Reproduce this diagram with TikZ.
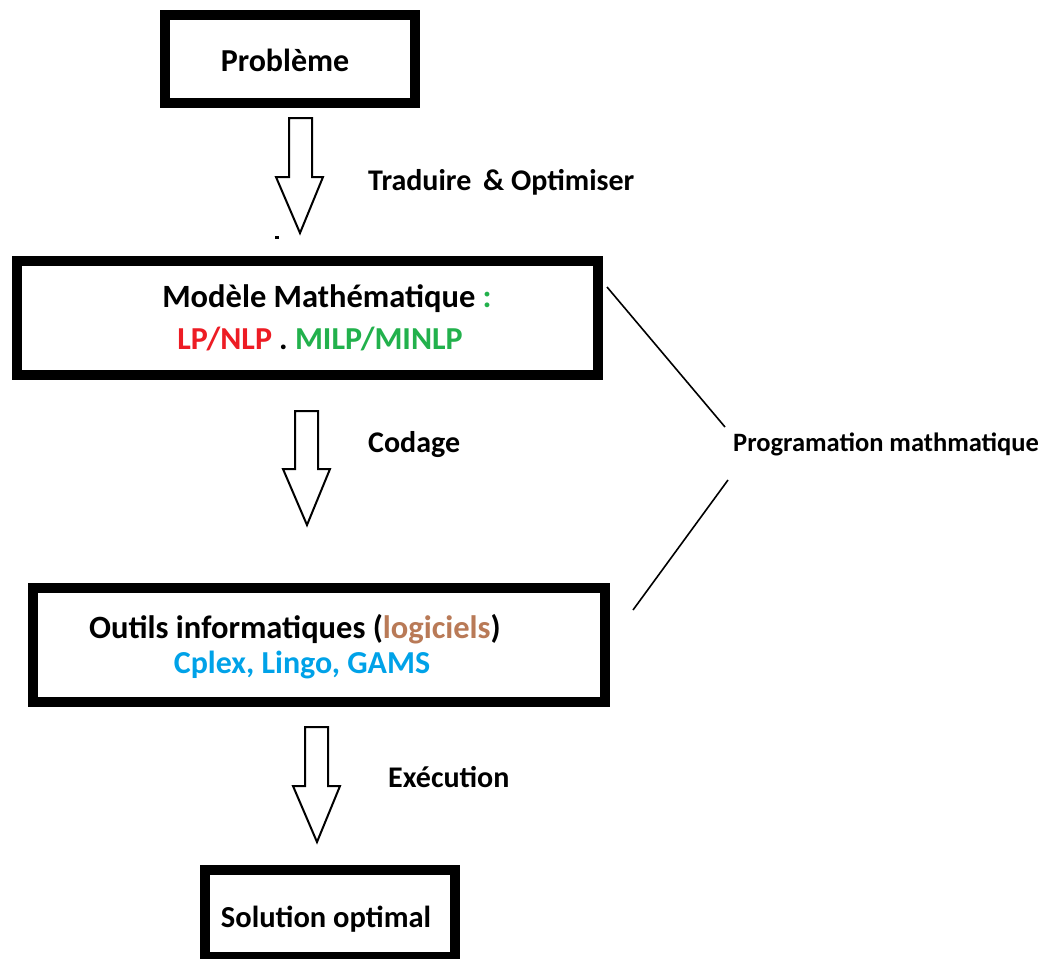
\documentclass[tikz,border=0pt]{standalone}
\usepackage{fontspec}
\setmainfont{Carlito}
\definecolor{lpred}{RGB}{237,28,36}
\definecolor{milpgreen}{RGB}{34,177,76}
\definecolor{toolblue}{RGB}{0,162,232}
\definecolor{softbrown}{RGB}{185,122,87}
\begin{document}
\begin{tikzpicture}[x=1pt,y=-1pt,
  frame/.style={draw=black,line width=10pt,inner sep=0pt,fill=white},
  blockarrow/.style={draw=black,line width=2pt,fill=white,line join=miter},
  boxtext/.style={font=\bfseries\fontsize{32}{38}\selectfont,inner sep=0pt,anchor=base},
  labeltext/.style={font=\bfseries\fontsize{30}{36}\selectfont,inner sep=0pt,anchor=base west},
  sidetext/.style={font=\bfseries\fontsize{26.5}{31}\selectfont,inner sep=0pt,anchor=base west},
  link/.style={draw=black,line width=1.6pt}]
\useasboundingbox (0,0) rectangle (1051,958);

% frames
\node[frame,minimum width=250pt,minimum height=88pt] (prob) at (290,59) {};
\node[frame,minimum width=581pt,minimum height=114pt] (model) at (307.5,318) {};
\node[frame,minimum width=572pt,minimum height=114pt] (tools) at (319,645) {};
\node[frame,minimum width=250pt,minimum height=87pt] (sol) at (330,913.5) {};

% frame texts
\node[boxtext] (probt) at (285,71) {Problème};
\node[boxtext,font=\bfseries\fontsize{32.5}{38}\selectfont] (modelt) at (327,307) {Modèle Mathématique \textcolor{milpgreen}{:}};
\node[boxtext] (modelt2) at (320,349) {\textcolor{lpred}{LP/NLP} . \textcolor{milpgreen}{MILP/MINLP}};
\node[boxtext,font=\bfseries\fontsize{32.5}{38}\selectfont] (toolst) at (295,638) {Outils informatiques (\textcolor{softbrown}{logiciels})};
\node[boxtext,text=toolblue] (toolst2) at (302,673) {Cplex, Lingo, GAMS};
\node[boxtext,font=\bfseries\fontsize{30.5}{36}\selectfont] (solt) at (326,927) {Solution optimal};

% hollow block arrows
\draw[blockarrow] (289,118) -- (312,118) -- (312,177) -- (323,177) -- (300,233) -- (276,177) -- (289,177) -- cycle;
\draw[blockarrow] (295,411) -- (318,411) -- (318,469) -- (330,469) -- (307,525) -- (283,469) -- (295,469) -- cycle;
\draw[blockarrow] (305,727) -- (328,727) -- (328,786) -- (340,786) -- (317,842) -- (293,786) -- (305,786) -- cycle;
\fill[black] (275,236) rectangle (279,239);

% arrow labels
\node[labeltext] (trad) at (368,190) {Traduire \,\& Optimiser};
\node[labeltext] (cod) at (368,452) {Codage};
\node[labeltext] (exe) at (388,787) {Exécution};

% side brace
\node[sidetext] (prog) at (733,451) {Programation mathmatique};
\coordinate (ua) at (607,287);
\coordinate (ub) at (725,427);
\coordinate (la) at (728,480);
\coordinate (lb) at (633,610);
\draw[link] (ua) -- (ub);
\draw[link] (la) -- (lb);
\end{tikzpicture}
\end{document}
